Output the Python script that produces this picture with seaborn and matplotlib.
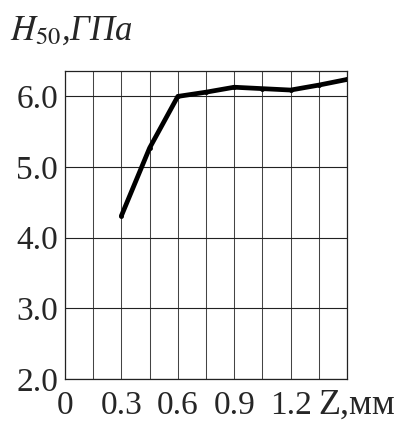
import matplotlib
matplotlib.use("Agg")
import matplotlib.pyplot as plt
import seaborn as sns
import pandas as pd

z_mm = [0.3, 0.45, 0.6, 0.75, 0.9, 1.05, 1.2, 1.35, 1.5]
h50_gpa = [4.31, 5.27, 6.0, 6.06, 6.13, 6.11, 6.09, 6.16, 6.24]
x_ticks = [0, 0.3, 0.6, 0.9, 1.2]
x_tick_labels = ["0", "0.3", "0.6", "0.9", "1.2"]
x_unit_label = "Z,мм"
y_ticks = [2.0, 3.0, 4.0, 5.0, 6.0]
y_tick_labels = ["2.0", "3.0", "4.0", "5.0", "6.0"]

sns.set_theme(style="white")
plt.rcParams["font.family"] = ["Liberation Serif", "DejaVu Serif"]
plt.rcParams["mathtext.fontset"] = "stix"

df = pd.DataFrame({"z": z_mm, "h": h50_gpa})

fig = plt.figure(figsize=(4.0, 4.21), dpi=100)
ax = fig.add_axes([0.1625, 0.0998, 0.705, 0.7316])
sns.lineplot(data=df, x="z", y="h", ax=ax, color="black", linewidth=3.4,
             marker="o", markersize=3.5, markeredgewidth=0)

ax.set_xlim(0, 1.5)
ax.set_ylim(2.0, 6.36)
ax.set_xticks([i * 0.15 for i in range(11)], minor=True)
ax.set_xticks(x_ticks)
ax.set_xticklabels(x_tick_labels, fontsize=24)
ax.set_yticks(y_ticks)
ax.set_yticklabels(y_tick_labels, fontsize=24)
ax.grid(True, which="major", axis="y", color="#222222", linewidth=0.8)
ax.grid(True, which="both", axis="x", color="#444444", linewidth=0.75)
ax.tick_params(axis="both", which="both", length=0)
ax.tick_params(axis="x", pad=8)
ax.tick_params(axis="y", pad=5)
for s in ax.spines.values():
    s.set_color("#222222")
    s.set_linewidth(0.9)
ax.set_xlabel("")
ax.set_ylabel("")

ax.annotate(x_unit_label, xy=(1.5, 0), xycoords=("data", "axes fraction"),
            xytext=(-21, -7), textcoords="offset points", ha="left", va="top",
            fontsize=26)

fig.text(0.025, 0.925, r"$\mathit{H}_{\mathit{50}}$,ГПа", fontsize=25, style="italic",
         ha="left", va="center")

fig.savefig("out.png", dpi=100)
